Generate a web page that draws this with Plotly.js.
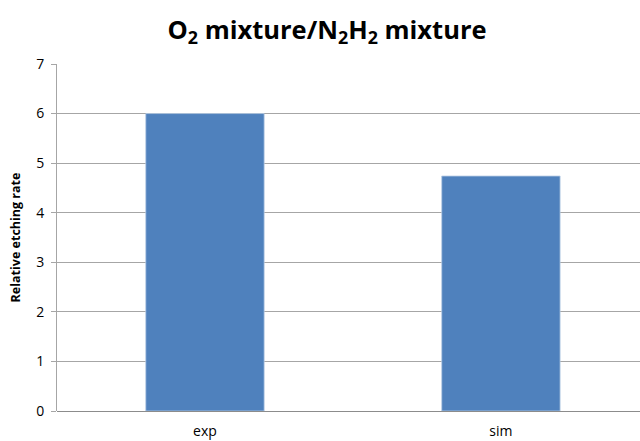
<!DOCTYPE html>
<html>
<head>
<meta charset="utf-8">
<script src="https://cdn.plot.ly/plotly-3.0.1.min.js"></script>
<style>html,body{margin:0;padding:0;background:#fff;overflow:hidden}#chart{width:640px;height:441px}</style>
</head>
<body>
<div id="chart"></div>
<script>
const categories = ["exp", "sim"];
const rates = [6.0, 4.74];
const yTicks = [0, 1, 2, 3, 4, 5, 6, 7];

const font = "Open Sans, Noto Sans, sans-serif";
const trace = {
  type: "bar",
  x: categories,
  y: rates,
  width: 0.4,
  marker: {color: "#4F81BD", line: {color: "#B9CDE5", width: 0.8}},
  hoverinfo: "x+y"
};
const layout = {
  width: 640, height: 441,
  margin: {l: 57, r: 0, t: 64, b: 30},
  paper_bgcolor: "#fff", plot_bgcolor: "#fff",
  showlegend: false,
  title: {
    text: "O<sub>2</sub> mixture/N<sub>2</sub>H<sub>2</sub> mixture",
    font: {family: font, size: 25.5, color: "#000", weight: "bold"},
    x: 0.511, xanchor: "center", xref: "container", y: 0.932, yanchor: "middle"
  },
  xaxis: {
    range: [-0.5, 1.47],
    showgrid: false, zeroline: false,
    showline: false,
    ticks: "",
    tickfont: {family: font, size: 14, color: "#000"},
    ticklabelstandoff: 10,
    fixedrange: true
  },
  yaxis: {
    range: [0, 7],
    tickvals: yTicks,
    ticktext: yTicks.map(String),
    showgrid: true, gridcolor: "#A6A6A6", gridwidth: 1,
    zeroline: true, zerolinecolor: "#8C8C8C", zerolinewidth: 1,
    showline: true, linecolor: "#A6A6A6", linewidth: 1,
    ticks: "outside", ticklen: 5, tickcolor: "#A6A6A6",
    tickfont: {family: font, size: 14, color: "#000"},
    ticklabelstandoff: 4,
    title: {text: "Relative etching rate", font: {family: font, size: 12.5, color: "#000", weight: "bold"}, standoff: 12},
    fixedrange: true
  }
};
Plotly.newPlot("chart", [trace], layout, {displayModeBar: false, staticPlot: true});
</script>
</body>
</html>
